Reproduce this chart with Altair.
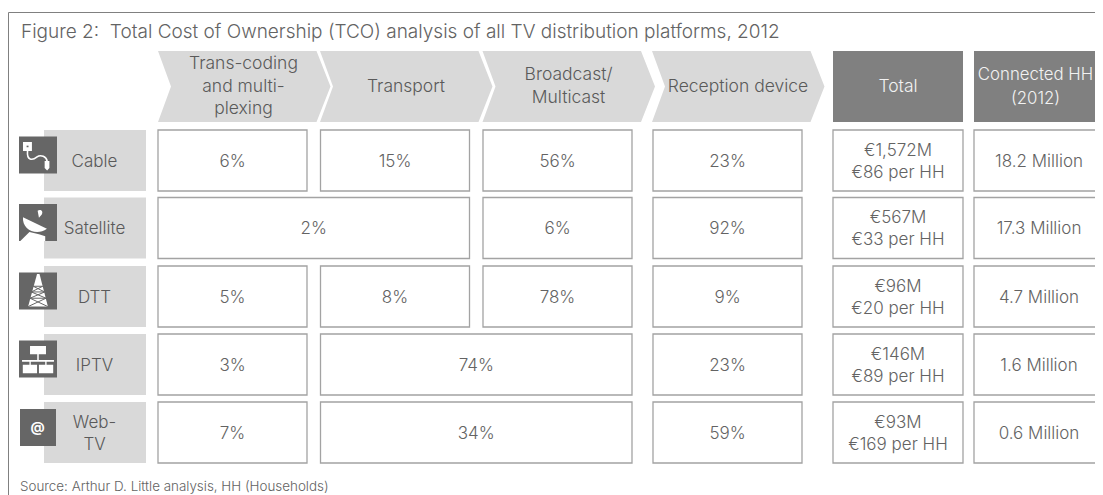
import altair as alt
import pandas as pd

TITLE = "Figure 2:\u00a0 Total Cost of Ownership (TCO) analysis of all TV distribution platforms, 2012"
SOURCE = "Source: Arthur D. Little analysis, HH (Households)"
STEPS = ["Trans-coding\nand multi-\nplexing", "Transport", "Broadcast/\nMulticast", "Reception device"]
SUMMARY_HEADS = ["Total", "Connected HH\n(2012)"]
PLATFORMS = ["Cable", "Satellite", "DTT", "IPTV", "Web-\nTV"]
# each row: (share label, first column, last column)
CABLE = [("6%", 0, 0), ("15%", 1, 1), ("56%", 2, 2), ("23%", 3, 3)]
SATELLITE = [("2%", 0, 1), ("6%", 2, 2), ("92%", 3, 3)]
DTT = [("5%", 0, 0), ("8%", 1, 1), ("78%", 2, 2), ("9%", 3, 3)]
IPTV = [("3%", 0, 0), ("74%", 1, 2), ("23%", 3, 3)]
WEBTV = [("7%", 0, 0), ("34%", 1, 2), ("59%", 3, 3)]
TOTALS = ["€1,572M\n€86 per HH", "€567M\n€33 per HH", "€96M\n€20 per HH", "€146M\n€89 per HH", "€93M\n€169 per HH"]
CONNECTED = ["18.2 Million", "17.3 Million", "4.7 Million", "1.6 Million", "0.6 Million"]

FONT = "Inter"
TXT = "#636363"
LIGHT = "#d9d9d9"
DARK = "#808080"
ICON = "#666666"
BORDER = "#a3a3a3"
FS = 17
HEAD_FS = 17.5

# table layout grid
COL_L = [158, 320.5, 483, 653]
COL_R = [307, 469.5, 632, 802]
CHEV_L = [158, 320, 482.5, 652]
SUM_L = [833, 974]
SUM_R = [963, 1115]
ROW_T = [130, 197.5, 266, 334, 402]
ROW_H = 61
HEAD_T, HEAD_B = 51, 122
HEAD_MID = (HEAD_T + HEAD_B) / 2
RIGHT = 1095
W, H = RIGHT - 8, 487

x_s = alt.Scale(domain=[8, RIGHT], range=[0, W], nice=False, zero=False)
y_s = alt.Scale(domain=[8, 495], range=[0, H], nice=False, zero=False)
X = lambda f: alt.X(f, type="quantitative", scale=x_s, axis=None, title=None)
Y = lambda f: alt.Y(f, type="quantitative", scale=y_s, axis=None, title=None)
X2 = lambda f: alt.X2(f)
Y2 = lambda f: alt.Y2(f)


def lines(cx, cy, label, lh):
    """One record per text line, stacked around the centre of the block."""
    parts = label.split("\n")
    top = cy - (len(parts) - 1) * lh / 2
    return [dict(x=cx, y=top + i * lh, t=p) for i, p in enumerate(parts)]


def text_layer(records, color=TXT, size=FS, align="center"):
    return alt.Chart(pd.DataFrame(records)).mark_text(
        font=FONT, fontSize=size, fontWeight=300, color=color, baseline="middle", align=align
    ).encode(x=X("x"), y=Y("y"), text="t:N")


rows = [CABLE, SATELLITE, DTT, IPTV, WEBTV]
cells, texts_cell = [], []
for r, row in enumerate(rows):
    cy = ROW_T[r] + ROW_H / 2
    for label, a, b in row:
        cells.append(dict(x=COL_L[a], x2=COL_R[b], y=ROW_T[r], y2=ROW_T[r] + ROW_H))
        texts_cell += lines((COL_L[a] + COL_R[b]) / 2, cy + 1, label, 22)
    for k, val in enumerate([TOTALS[r], CONNECTED[r]]):
        cells.append(dict(x=SUM_L[k], x2=SUM_R[k], y=ROW_T[r], y2=ROW_T[r] + ROW_H))
        texts_cell += lines(898 if k == 0 else 1039, cy + 1, val, 22)

cell_layer = alt.Chart(pd.DataFrame(cells)).mark_rect(
    fill="white", stroke=BORDER, strokeWidth=1.3, clip=True
).encode(x=X("x"), x2=X2("x2"), y=Y("y"), y2=Y2("y2"))
cell_text = text_layer(texts_cell)

# chevron outline in symbol units: one unit is half of the symbol's side
CH_SIDE = 172.5
u = CH_SIDE / 2
ch_h = (HEAD_B - HEAD_T) / 2 / u
ch_top = -1 + 158.5 / u
ch_notch = -1 + 13 / u
CHEVRON = f"M-1,{-ch_h} L{ch_top},{-ch_h} L1,0 L{ch_top},{ch_h} L-1,{ch_h} L{ch_notch},0 Z"
chev_layer = alt.Chart(pd.DataFrame([dict(x=l + u, y=HEAD_MID) for l in CHEV_L])).mark_point(
    shape=CHEVRON, filled=True, fill=LIGHT, opacity=1, strokeWidth=0, size=CH_SIDE ** 2
).encode(x=X("x"), y=Y("y"))

head_rect = alt.Chart(pd.DataFrame([
    dict(x=SUM_L[k], x2=SUM_R[k], y=HEAD_T, y2=HEAD_B) for k in range(2)
])).mark_rect(fill=DARK, clip=True).encode(x=X("x"), x2=X2("x2"), y=Y("y"), y2=Y2("y2"))

step_recs = []
for s, c in zip(STEPS, [243.5, 406, 568.5, 738]):
    step_recs += lines(c, HEAD_MID, s, 22.5)
step_text = text_layer(step_recs, color="#5a5a5a", size=HEAD_FS)
total_head = text_layer(lines(898, HEAD_MID, SUMMARY_HEADS[0], 24), color="#f2f2f2", size=HEAD_FS)
conn_head = text_layer(lines(1035.5, HEAD_MID, SUMMARY_HEADS[1], 24), color="#f2f2f2", size=16.8)

label_rect = alt.Chart(pd.DataFrame([
    dict(x=44, x2=146, y=t, y2=t + ROW_H) for t in ROW_T
])).mark_rect(fill=LIGHT).encode(x=X("x"), x2=X2("x2"), y=Y("y"), y2=Y2("y2"))
lab_recs = []
for t, p in zip(ROW_T, PLATFORMS):
    lab_recs += lines(94.5, t + ROW_H / 2 + 1, p, 22)
label_text = text_layer(lab_recs, color="#5a5a5a")

# icons: unit paths, scaled to the icon box by the symbol size
icon_cx, icon_h = 38, 37
icon_y = [t + 25 for t in ROW_T]
icon_y[4] = ROW_T[4] + 25.5
icon_rect = alt.Chart(pd.DataFrame([
    dict(x=19 if i < 4 else 20, x2=57 if i < 4 else 56, y=y - 18.5, y2=y + 18.5) for i, y in enumerate(icon_y)
])).mark_rect(fill=ICON).encode(x=X("x"), x2=X2("x2"), y=Y("y"), y2=Y2("y2"))

WHITE_FILL = [
    (0, "M-0.79,-0.68 L-0.32,-0.68 L-0.32,-0.21 L-0.79,-0.21 Z M0.35,0.32 L0.6,0.32 L0.6,0.68 L0.48,0.82 L0.35,0.68 Z"),
    (1, "M-0.79,-0.28 C-0.85,0.35 -0.1,0.75 0.47,0.33 Z M-0.02,-0.62 C0.12,-0.72 0.3,-0.62 0.2,-0.42 L0.05,-0.25 Z"
        " M-0.45,0.5 L0.05,0.62 L0.38,0.72 L0.38,0.98 L-0.93,0.98 Z"),
    (2, "M-0.05,-0.9 L0.08,-0.9 L0.52,0.82 L-0.52,0.82 Z"),
    (3, "M-0.42,-0.68 L0.42,-0.68 L0.42,-0.25 L-0.42,-0.25 Z M-0.84,0.05 L0.84,0.05 L0.84,0.14 L0.45,0.14 L0.45,0.3"
        " L0.8,0.3 L0.8,0.75 L0.05,0.75 L0.05,0.3 L0.38,0.3 L0.38,0.14 L-0.38,0.14 L-0.38,0.3 L-0.05,0.3 L-0.05,0.75"
        " L-0.8,0.75 L-0.8,0.3 L-0.45,0.3 L-0.45,0.14 L-0.84,0.14 Z M-0.04,-0.25 L0.04,-0.25 L0.04,0.05 L-0.04,0.05 Z"),
]
SIZE = (icon_h + 1) ** 2
fill_glyphs = alt.Chart(pd.DataFrame([
    dict(x=icon_cx, y=icon_y[i], p=p) for i, p in WHITE_FILL
])).mark_point(filled=True, fill="white", opacity=1, strokeWidth=0, size=SIZE).encode(
    x=X("x"), y=Y("y"), shape=alt.Shape("p:N", scale=None, legend=None))
STROKES = [
    (0, "white", "M-0.55,-0.21 C-0.6,0.3 -0.3,0.3 -0.05,0.1 C0.15,-0.05 0.45,0.1 0.48,0.32", 1.6),
    (0, ICON, "M-0.6,-0.45 L-0.5,-0.45", 1.6),
    (2, ICON, "M-0.25,-0.25 L0.25,-0.25 M-0.35,0.05 L0.35,0.05 M-0.42,0.38 L0.42,0.38 M-0.25,-0.25 L0.35,0.05 M0.25,-0.25 L-0.35,0.05"
              " M-0.35,0.05 L0.42,0.38 M0.35,0.05 L-0.42,0.38 M-0.42,0.38 L0.52,0.82 M0.42,0.38 L-0.52,0.82", 1.0),
]
stroke_glyphs = alt.layer(*[
    alt.Chart(pd.DataFrame([dict(x=icon_cx, y=icon_y[i])])).mark_point(
        shape=p, filled=False, opacity=1, size=SIZE, strokeWidth=sw, stroke=c
    ).encode(x=X("x"), y=Y("y"))
    for i, c, p, sw in STROKES
])
at_text = alt.Chart(pd.DataFrame([dict(x=37.5, y=icon_y[4], t="@")])).mark_text(
    font=FONT, fontSize=14, fontWeight="bold", color="white", baseline="middle", align="center"
).encode(x=X("x"), y=Y("y"), text="t:N")

frame_left = alt.Chart(pd.DataFrame([dict(x=8.5, y=12.5, y2=495)])).mark_rule(color=DARK, strokeWidth=1).encode(
    x=X("x"), y=Y("y"), y2=Y2("y2"))
frame_top = alt.Chart(pd.DataFrame([dict(x=8.5, x2=RIGHT, y=12.5)])).mark_rule(color=DARK, strokeWidth=1).encode(
    x=X("x"), x2=X2("x2"), y=Y("y"))

title_t = text_layer([dict(x=21, y=31.5, t=TITLE)], size=19, align="left")
source_t = text_layer([dict(x=20, y=487, t=SOURCE)], size=13.4, align="left")

chart = alt.layer(
    frame_left, frame_top, title_t, chev_layer, head_rect, step_text, total_head, conn_head,
    label_rect, icon_rect, fill_glyphs, stroke_glyphs, at_text, label_text,
    cell_layer, cell_text, source_t
).properties(
    width=W, height=H, padding=0, background="white",
    autosize=alt.AutoSizeParams(type="none", contains="padding"),
).configure_view(stroke=None)

chart.save("out.html", embed_options={"renderer": "svg", "actions": False})
